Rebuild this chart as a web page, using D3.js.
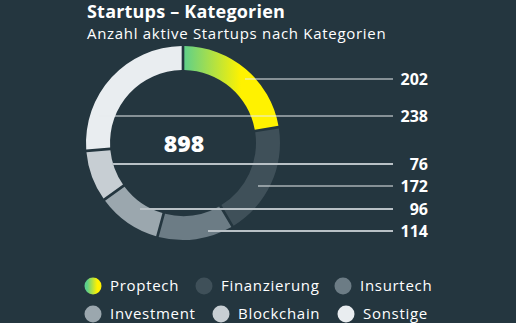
<!DOCTYPE html>
<html>
<head>
<meta charset="utf-8">
<script src="https://cdn.jsdelivr.net/npm/d3@7"></script>
<style>
    html, body { margin: 0; padding: 0; background: #24363f; }
    svg { display: block; font-family: "Open Sans", "Noto Sans", sans-serif; }
</style>
</head>
<body>
<div id="chart"></div>
<script>
var categories = ["Proptech", "Finanzierung", "Insurtech", "Investment", "Blockchain", "Sonstige"],
    counts = [202, 172, 114, 96, 76, 238],
    colors = ["url(#proptechGrad)", "#3f5059", "#6c7c85", "#9ba7ae", "#c7ced3", "#e9edf0"];

// callout order top to bottom, as in the original graphic
var calloutOrder = ["Proptech", "Sonstige", "Blockchain", "Finanzierung", "Investment", "Insurtech"];

(function() {
    var width = 516,
        height = 323,
        cx = 183,
        cy = 143,
        outerR = 97,
        innerR = 73,
        lineEnd = 393,
        labelX = 428,
        total = d3.sum(counts);

    var svg = d3.select("#chart").append("svg")
                .attr("width", width)
                .attr("height", height);

    var defs = svg.append("defs");

    //gradient in the donut's own coords (0 = centre)
    var grad = defs.append("linearGradient")
                   .attr("id", "proptechGrad")
                   .attr("gradientUnits", "userSpaceOnUse")
                   .attr("x1", 0).attr("y1", 0)
                   .attr("x2", 58).attr("y2", 0);
    grad.append("stop").attr("offset", "0%").attr("stop-color", "#5ccf8c");
    grad.append("stop").attr("offset", "100%").attr("stop-color", "#fff200");

    var legGrad = defs.append("linearGradient").attr("id", "legendGrad");
    legGrad.append("stop").attr("offset", "15%").attr("stop-color", "#5ccf8c");
    legGrad.append("stop").attr("offset", "75%").attr("stop-color", "#fff200");

    // titles
    svg.append("text")
       .attr("x", 87).attr("y", 18)
       .attr("fill", "#ffffff")
       .style("font-size", "18px")
       .style("font-weight", "700")
       .style("letter-spacing", "0.2px")
       .text("Startups – Kategorien");

    svg.append("text")
       .attr("x", 87).attr("y", 39)
       .attr("fill", "#ffffff")
       .style("font-size", "15px")
       .style("letter-spacing", "0.7px")
       .text("Anzahl aktive Startups nach Kategorien");

    // donut
    var data = categories.map(function(c, i) {
        return {name: c, value: counts[i], color: colors[i]};
    });

    var pie = d3.pie()
                .sort(null)
                .value(function(d) { return d.value; })
                .padAngle(0.022);

    var arc = d3.arc()
                .innerRadius(innerR)
                .outerRadius(outerR);

    var g = svg.append("g")
               .attr("transform", "translate(" + cx + "," + cy + ")");

    g.selectAll(".slice")
     .data(pie(data))
     .enter()
     .append("path")
     .attr("class", "slice")
     .attr("d", arc)
     .attr("fill", function(d) { return d.data.color; });

    // center total
    svg.append("text")
       .attr("x", cx + 1).attr("y", cy + 9)
       .attr("text-anchor", "middle")
       .attr("fill", "#ffffff")
       .style("font-size", "23px")
       .style("font-weight", "800")
       .text(total);

    // callouts: y slot and start x of each leader line
    var slotY = {Proptech: 79, Sonstige: 116, Blockchain: 164, Finanzierung: 186, Investment: 209, Insurtech: 231},
        slotX = {Proptech: 245, Sonstige: 99, Blockchain: 112, Finanzierung: 258, Investment: 140, Insurtech: 208},
        thick = {Blockchain: true, Investment: true, Insurtech: true};

    var callouts = svg.selectAll(".callout")
                      .data(calloutOrder.map(function(n) { return data[categories.indexOf(n)]; }))
                      .enter()
                      .append("g")
                      .attr("class", "callout");

    callouts.append("line")
            .attr("x1", function(d) { return slotX[d.name]; })
            .attr("x2", lineEnd)
            .attr("y1", function(d) { return slotY[d.name]; })
            .attr("y2", function(d) { return slotY[d.name]; })
            .attr("stroke", function(d) { return thick[d.name] ? "#b9c1c6" : "#e8ecee"; })
            .attr("stroke-width", function(d) { return thick[d.name] ? 2 : 1.2; });

    callouts.append("text")
            .attr("x", labelX)
            .attr("y", function(d) { return slotY[d.name] + 6; })
            .attr("text-anchor", "end")
            .attr("fill", "#ffffff")
            .style("font-size", "16px")
            .style("font-weight", "700")
            .text(function(d) { return d.value; });

    // legend
    var legendX = [93, 204, 343, 93, 221, 346],
        legendY = [286, 286, 286, 314, 314, 314];

    var legend = svg.selectAll(".legendItem")
                    .data(data)
                    .enter()
                    .append("g")
                    .attr("class", "legendItem")
                    .attr("transform", function(d, i) { return "translate(" + legendX[i] + "," + legendY[i] + ")"; });

    legend.append("circle")
          .attr("r", 8.5)
          .attr("fill", function(d) { return d.name === "Proptech" ? "url(#legendGrad)" : d.color; });

    legend.append("text")
          .attr("x", 17)
          .attr("y", 5)
          .attr("fill", "#ffffff")
          .style("font-size", "15px")
          .style("letter-spacing", "0.7px")
          .text(function(d) { return d.name; });
})();
</script>
</body>
</html>
